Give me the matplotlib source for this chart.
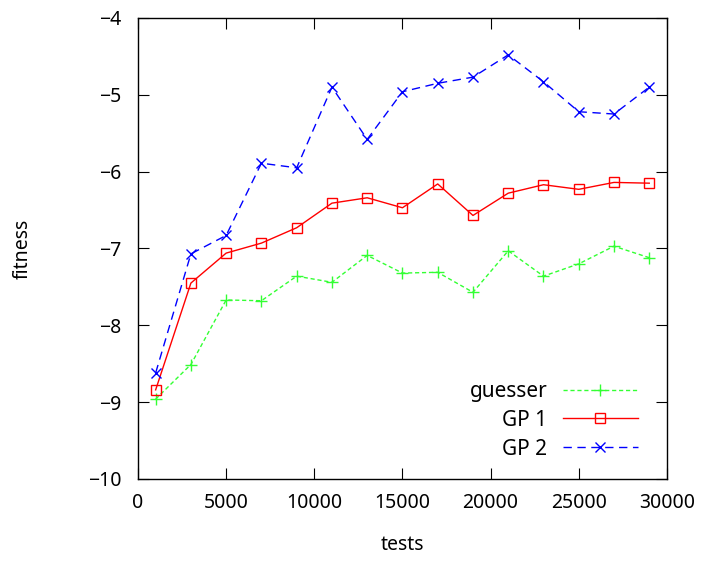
import matplotlib
matplotlib.use("Agg")
import matplotlib.pyplot as plt

tests = [1000, 3000, 5000, 7000, 9000, 11000, 13000, 15000, 17000, 19000,
         21000, 23000, 25000, 27000, 29000]
guesser = [-8.96, -8.51, -7.67, -7.68, -7.36, -7.44, -7.09, -7.32, -7.31, -7.57,
           -7.03, -7.36, -7.20, -6.97, -7.12]
gp1 = [-8.84, -7.45, -7.06, -6.93, -6.73, -6.41, -6.34, -6.47, -6.16, -6.57,
       -6.28, -6.17, -6.23, -6.14, -6.15]
gp2 = [-8.62, -7.07, -6.83, -5.89, -5.95, -4.90, -5.58, -4.96, -4.85, -4.77,
       -4.48, -4.83, -5.22, -5.25, -4.90]
xticks = [0, 5000, 10000, 15000, 20000, 25000, 30000]
yticks = [-10, -9, -8, -7, -6, -5, -4]

plt.rcParams['font.family'] = ['Noto Sans', 'DejaVu Sans']
fig = plt.figure(figsize=(7.02, 5.62), dpi=100)
ax = fig.add_axes([0.1966, 0.1477, 0.7534, 0.8203])

ax.plot(tests, guesser, color='#33ff33', ls=(0, (3, 2)), lw=1, marker='+',
        ms=9, mew=1, label='guesser')
ax.plot(tests, gp1, color='#ff0000', ls='-', lw=1, marker='s', ms=7,
        mfc='none', mew=1, label='GP 1')
ax.plot(tests, gp2, color='#0000ff', ls=(0, (6, 4)), lw=1, marker='x',
        ms=7, mew=1, label='GP 2')

ax.set_xlim(0, 30000)
ax.set_ylim(-10, -4)
ax.set_xticks(xticks)
ax.set_yticks(yticks)
ax.set_yticklabels([f'\u2212{abs(v)}' for v in yticks])
ax.tick_params(direction='in', length=8, top=True, right=True, labelsize=14)
ax.tick_params(axis='x', pad=10)
ax.tick_params(axis='y', pad=12)
for s in ax.spines.values():
    s.set_linewidth(1)
ax.set_xlabel('tests', fontsize=14, labelpad=16)
ax.set_ylabel('fitness', fontsize=14, labelpad=40)

ax.legend(loc='lower right', frameon=False, markerfirst=False, fontsize=15,
          handlelength=3.6, handletextpad=0.75, labelspacing=0.38,
          borderpad=0, borderaxespad=0, bbox_to_anchor=(0.945, 0.042))

fig.savefig('out.png', dpi=100)
